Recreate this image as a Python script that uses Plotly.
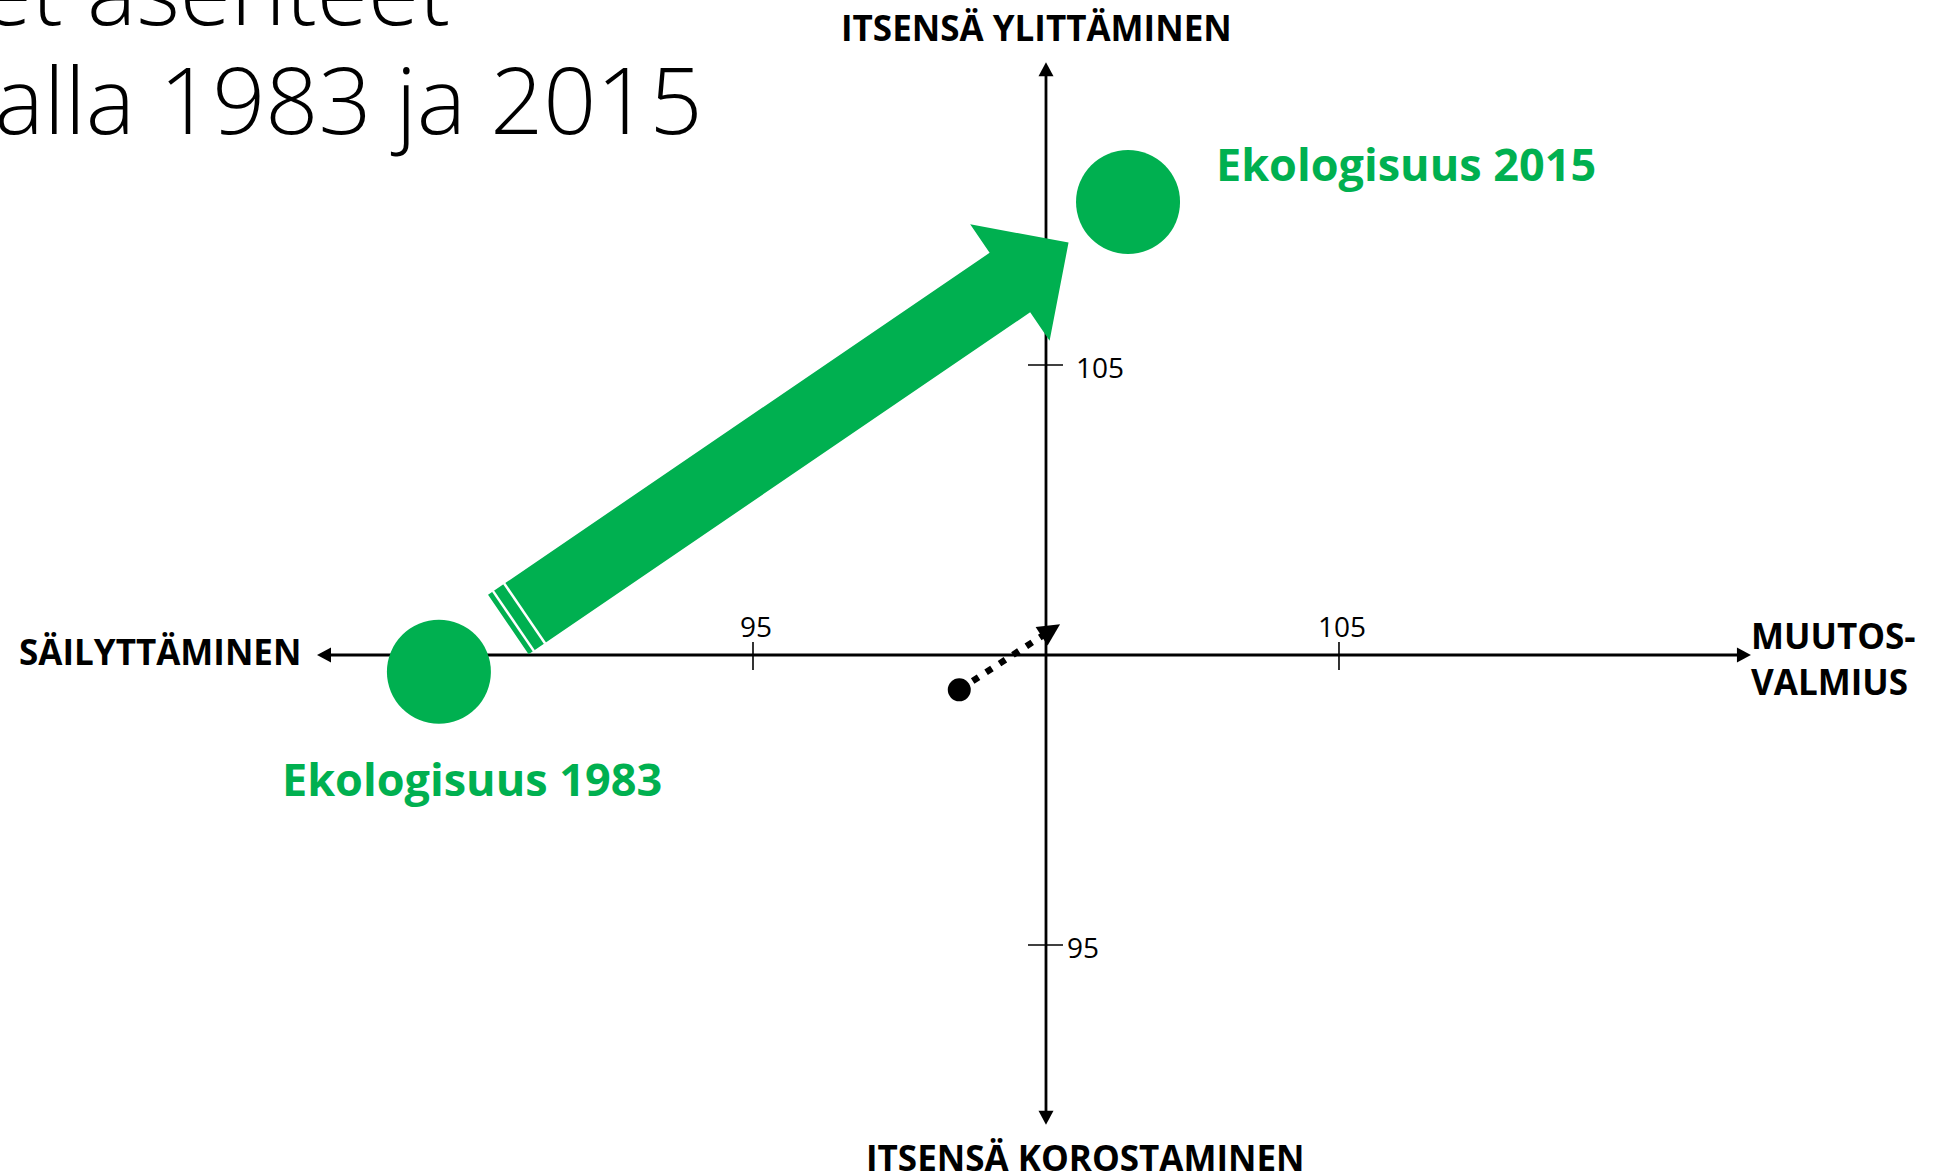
import numpy as np
import plotly.graph_objects as go

# ---------------- data ----------------
eko_years = ["1983", "2015"]
eko_x = [89.64, 101.40]      # muutosvalmius
eko_y = [99.71, 107.81]      # itsensä ylittäminen
ref_x = [98.52, 100.24]      # musta vertailupiste: alku -> loppu
ref_y = [99.40, 100.53]
x_ticks = [95, 105]
x_tick_labels = ["95", "105"]
y_ticks = [95, 105]
y_tick_labels = ["95", "105"]
axis_center = [100, 100]
x_axis_extent = [87.56, 112.03]
y_axis_extent = [91.90, 110.22]
label_top = "ITSENSÄ YLITTÄMINEN"
label_bottom = "ITSENSÄ KOROSTAMINEN"
label_left = "SÄILYTTÄMINEN"
label_right = "MUUTOS-<br>VALMIUS"
title_lines = ["Suomalaisten arvot ja ekologiset asenteet",
               "kahdella mittauskerralla 1983 ja 2015"]

# ---------------- layout / style ----------------
W, H = 1951, 1175
X0, X1 = 82.150, 115.444
Y0, Y1 = 91.034, 111.293
SX = W / (X1 - X0)
SY = H / (Y1 - Y0)
GREEN = "#00B050"
FONT = "Open Sans"


def to_px(x, y):
    return np.array([(x - X0) * SX, (Y1 - y) * SY])


def to_data(p):
    return (X0 + p[0] / SX, Y1 - p[1] / SY)


def poly_xy(points):
    xs, ys = [], []
    for p in points:
        dx, dy = to_data(p)
        xs.append(dx)
        ys.append(dy)
    xs.append(xs[0])
    ys.append(ys[0])
    return xs, ys


def path_str(points):
    parts = []
    for i, p in enumerate(points):
        dx, dy = to_data(p)
        parts.append(("M" if i == 0 else "L") + f"{dx:.5f},{dy:.5f}")
    return " ".join(parts) + " Z"


fig = go.Figure()
shapes = []

# ---- axes (drawn below traces) ----
cpx = to_px(axis_center[0], axis_center[1])
axis_ends = [
    to_px(x_axis_extent[0], axis_center[1]),
    to_px(x_axis_extent[1], axis_center[1]),
    to_px(axis_center[0], y_axis_extent[1]),
    to_px(axis_center[0], y_axis_extent[0]),
]
for end in axis_ends:
    d = end - cpx
    u = d / np.linalg.norm(d)
    n = np.array([-u[1], u[0]])
    line_end = end - 10 * u
    a = to_data(cpx)
    b = to_data(line_end)
    shapes.append(dict(type="line", xref="x", yref="y", layer="below",
                       x0=a[0], y0=a[1], x1=b[0], y1=b[1],
                       line=dict(color="black", width=2.8)))
    base = end - 14 * u
    shapes.append(dict(type="path", xref="x", yref="y", layer="below",
                       path=path_str([end, base + 7.5 * n, base - 7.5 * n]),
                       fillcolor="black", line=dict(width=0)))

# ticks
for t in x_ticks:
    p = to_px(t, axis_center[1])
    a = to_data(p + np.array([0, -13]))
    b = to_data(p + np.array([0, 15]))
    shapes.append(dict(type="line", xref="x", yref="y", layer="below",
                       x0=a[0], y0=a[1], x1=b[0], y1=b[1],
                       line=dict(color="black", width=1.6)))
for t in y_ticks:
    p = to_px(axis_center[0], t)
    a = to_data(p + np.array([-18, 0]))
    b = to_data(p + np.array([17, 0]))
    shapes.append(dict(type="line", xref="x", yref="y", layer="below",
                       x0=a[0], y0=a[1], x1=b[0], y1=b[1],
                       line=dict(color="black", width=1.6)))

# ---- big green striped arrow 1983 -> 2015 ----
c1 = to_px(eko_x[0], eko_y[0])
c2 = to_px(eko_x[1], eko_y[1])
d = c2 - c1
u = d / np.linalg.norm(d)
n = np.array([-u[1], u[0]])
T = c1 + 84 * u
P = c2 - 72 * u
B = P - 71 * u
hw, hh = 36, 70.5
xs, ys = poly_xy([T + hw * n, B + hw * n, B + hh * n, P, B - hh * n, B - hw * n, T - hw * n])
fig.add_trace(go.Scatter(x=xs, y=ys, mode="lines", fill="toself", fillcolor=GREEN,
                         line=dict(color=GREEN, width=0), hoverinfo="skip", showlegend=False))
for off in [6.2, 19.7]:
    a = to_data(T + off * u + (hw + 0.5) * n)
    b = to_data(T + off * u - (hw + 0.5) * n)
    fig.add_trace(go.Scatter(x=[a[0], b[0]], y=[a[1], b[1]], mode="lines",
                             line=dict(color="white", width=2.5),
                             hoverinfo="skip", showlegend=False))

# ---- green circles ----
fig.add_trace(go.Scatter(x=eko_x, y=eko_y, mode="markers",
                         marker=dict(size=104, color=GREEN, line=dict(width=0)),
                         hoverinfo="skip", showlegend=False))

# ---- black dotted arrow ----
r0 = to_px(ref_x[0], ref_y[0])
r1 = to_px(ref_x[1], ref_y[1])
dr = r1 - r0
u2 = dr / np.linalg.norm(dr)
n2 = np.array([-u2[1], u2[0]])
line_end = to_data(r1 - 12 * u2)
fig.add_trace(go.Scatter(x=[ref_x[0], line_end[0]], y=[ref_y[0], line_end[1]], mode="lines",
                         line=dict(color="black", width=6.5, dash="7px,9px"),
                         hoverinfo="skip", showlegend=False))
b2 = r1 - 22 * u2
xs, ys = poly_xy([r1, b2 + 11 * n2, b2 - 11 * n2])
fig.add_trace(go.Scatter(x=xs, y=ys, mode="lines", fill="toself", fillcolor="black",
                         line=dict(color="black", width=0), hoverinfo="skip", showlegend=False))
fig.add_trace(go.Scatter(x=[ref_x[0]], y=[ref_y[0]], mode="markers",
                         marker=dict(size=23, color="black", line=dict(width=0)),
                         hoverinfo="skip", showlegend=False))

# ---- annotations ----
ann = []


def paper(px, py):
    return px / W, 1 - py / H


# tick labels
for t, lab in zip(x_ticks, x_tick_labels):
    ann.append(dict(x=t, y=axis_center[1], xref="x", yref="y", text=lab, showarrow=False,
                    xanchor="center", yanchor="middle", xshift=3, yshift=29,
                    font=dict(family=FONT, size=28, color="black")))
for t, lab, xs_ in zip(y_ticks, y_tick_labels, [19, 28]):
    ann.append(dict(x=axis_center[0], y=t, xref="x", yref="y", text=lab, showarrow=False,
                    xanchor="left", yanchor="middle", xshift=xs_, yshift=-2,
                    font=dict(family=FONT, size=28, color="black")))

# green point labels
for i, yr in enumerate(eko_years):
    if i == 0:
        xa, xsh, ysh = "left", -159, -107
    else:
        xa, xsh, ysh = "left", 86, 39
    ann.append(dict(x=eko_x[i], y=eko_y[i], xref="x", yref="y",
                    text=f"Ekologisuus {yr}", showarrow=False,
                    xanchor=xa, yanchor="middle", xshift=xsh, yshift=ysh,
                    font=dict(family=FONT, size=45, color=GREEN, weight=700)))

# axis titles
bold = dict(family=FONT, size=35, color="black", weight=700)
px_, py_ = paper(1036, 27)
ann.append(dict(x=px_, y=py_, xref="paper", yref="paper", text=label_top, showarrow=False,
                xanchor="center", yanchor="middle", font=bold))
px_, py_ = paper(1085, 1157)
ann.append(dict(x=px_, y=py_, xref="paper", yref="paper", text=label_bottom, showarrow=False,
                xanchor="center", yanchor="middle", font=bold))
px_, py_ = paper(160, 651)
ann.append(dict(x=px_, y=py_, xref="paper", yref="paper", text=label_left, showarrow=False,
                xanchor="center", yanchor="middle", font=bold))
px_, py_ = paper(1749, 658)
ann.append(dict(x=px_, y=py_, xref="paper", yref="paper", text=label_right, showarrow=False,
                xanchor="left", yanchor="middle", align="left", font=bold))

# title (cut at the left edge like the original slide)
tfont = dict(family=FONT, size=93, color="black", weight=300)
px_, py_ = paper(452, -11)
ann.append(dict(x=px_, y=py_, xref="paper", yref="paper", text=title_lines[0], showarrow=False,
                xanchor="right", yanchor="middle", font=tfont))
px_, py_ = paper(704, 98)
ann.append(dict(x=px_, y=py_, xref="paper", yref="paper", text=title_lines[1], showarrow=False,
                xanchor="right", yanchor="middle", font=tfont))

fig.update_layout(
    width=W, height=H, autosize=False,
    margin=dict(l=0, r=0, t=0, b=0, pad=0),
    paper_bgcolor="white", plot_bgcolor="white",
    xaxis=dict(range=[X0, X1], visible=False, fixedrange=True),
    yaxis=dict(range=[Y0, Y1], visible=False, fixedrange=True),
    shapes=shapes, annotations=ann, showlegend=False,
)

fig.write_html(
    "out.html",
    config={"displayModeBar": False, "staticPlot": True},
    post_script="document.body.style.margin='0';document.body.style.overflow='hidden';",
)
